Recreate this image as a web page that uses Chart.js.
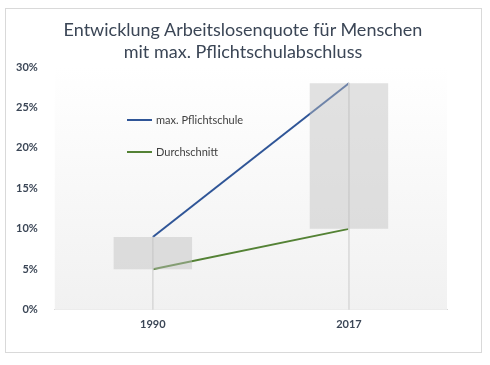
<!DOCTYPE html>
<html><head><meta charset="utf-8">
<script src="https://cdn.jsdelivr.net/npm/chart.js@4"></script>
<style>
html,body{margin:0;padding:0;background:#fff;}
#wrap{position:relative;width:490px;height:365px;}
#frame{position:absolute;left:5px;top:8px;width:475px;height:343px;border:1px solid #d9d9d9;pointer-events:none;}
canvas{position:absolute;left:0;top:0;}
#title{position:absolute;left:0;width:486px;top:18px;text-align:center;font-family:Lato,"Open Sans",sans-serif;font-size:18px;line-height:22px;color:#3b4656;}
.lg{position:absolute;font-family:Lato,"Open Sans",sans-serif;font-size:11px;color:#404040;white-space:nowrap;}
.lg span{display:inline-block;width:25px;height:2px;vertical-align:middle;margin-right:4px;position:relative;top:-1px;}
</style></head>
<body><div id="wrap"><canvas id="c" width="490" height="365"></canvas><div id="frame"></div>
<div id="title"></div>
<div class="lg" style="left:127px;top:113px"><span style="background:#2F5597"></span>max. Pflichtschule</div>
<div class="lg" style="left:127px;top:145px"><span style="background:#548235"></span>Durchschnitt</div>
</div>
<script>
const categories = ['1990', '2017'];
const pflichtschule = [9, 28];
const durchschnitt = [5, 10];
const yTicks = [0, 5, 10, 15, 20, 25, 30];
const titleLines = ['Entwicklung Arbeitslosenquote für Menschen', 'mit max. Pflichtschulabschluss'];

document.getElementById('title').innerHTML = titleLines.join('<br>');

const rangeBars = categories.map((c, i) => [Math.min(pflichtschule[i], durchschnitt[i]), Math.max(pflichtschule[i], durchschnitt[i])]);
const dropLines = categories.map((c, i) => [0, Math.max(pflichtschule[i], durchschnitt[i])]);

const bgPlugin = {
  id: 'bg',
  beforeDatasetsDraw(chart) {
    const {ctx, chartArea: a} = chart;
    const g = ctx.createLinearGradient(0, a.top, 0, a.bottom);
    g.addColorStop(0, '#ffffff');
    g.addColorStop(1, '#f1f1f1');
    ctx.save();
    ctx.fillStyle = g;
    ctx.fillRect(a.left, a.top, a.right - a.left, a.bottom - a.top);
    ctx.restore();
  }
};

new Chart(document.getElementById('c'), {
  data: {
    labels: categories,
    datasets: [
      {type: 'bar', label: 'Spanne', data: rangeBars, backgroundColor: 'rgba(190,190,190,0.45)', borderWidth: 0, grouped: false, barPercentage: 0.4, categoryPercentage: 1, order: 0},
      {type: 'bar', label: 'Lotlinie', data: dropLines, backgroundColor: '#dadada', borderWidth: 0, grouped: false, barThickness: 1, order: 1},
      {type: 'line', label: 'max. Pflichtschule', data: pflichtschule, borderColor: '#2F5597', borderWidth: 2, pointRadius: 0, order: 2},
      {type: 'line', label: 'Durchschnitt', data: durchschnitt, borderColor: '#548235', borderWidth: 2, pointRadius: 0, order: 3}
    ]
  },
  options: {
    responsive: false,
    animation: false,
    events: [],
    layout: {padding: {left: 7, right: 43, top: 67, bottom: 26}},
    plugins: {
      legend: {display: false},
      tooltip: {enabled: false},
      title: {display: false}
    },
    scales: {
      x: {
        type: 'category', offset: true,
        grid: {display: false, drawTicks: false},
        border: {display: true, color: '#d9d9d9', width: 1},
        ticks: {color: '#3b4656', font: {family: 'Lato', size: 11, weight: 'bold'}, padding: 8}
      },
      y: {
        min: 0, max: 30,
        afterBuildTicks: (s) => { s.ticks = yTicks.map(v => ({value: v})); },
        grid: {display: false},
        border: {display: false},
        ticks: {color: '#3b4656', font: {family: 'Lato', size: 11, weight: 'bold'}, padding: 9, callback: v => v + '%'}
      }
    }
  },
  plugins: [bgPlugin]
});
</script></body></html>
